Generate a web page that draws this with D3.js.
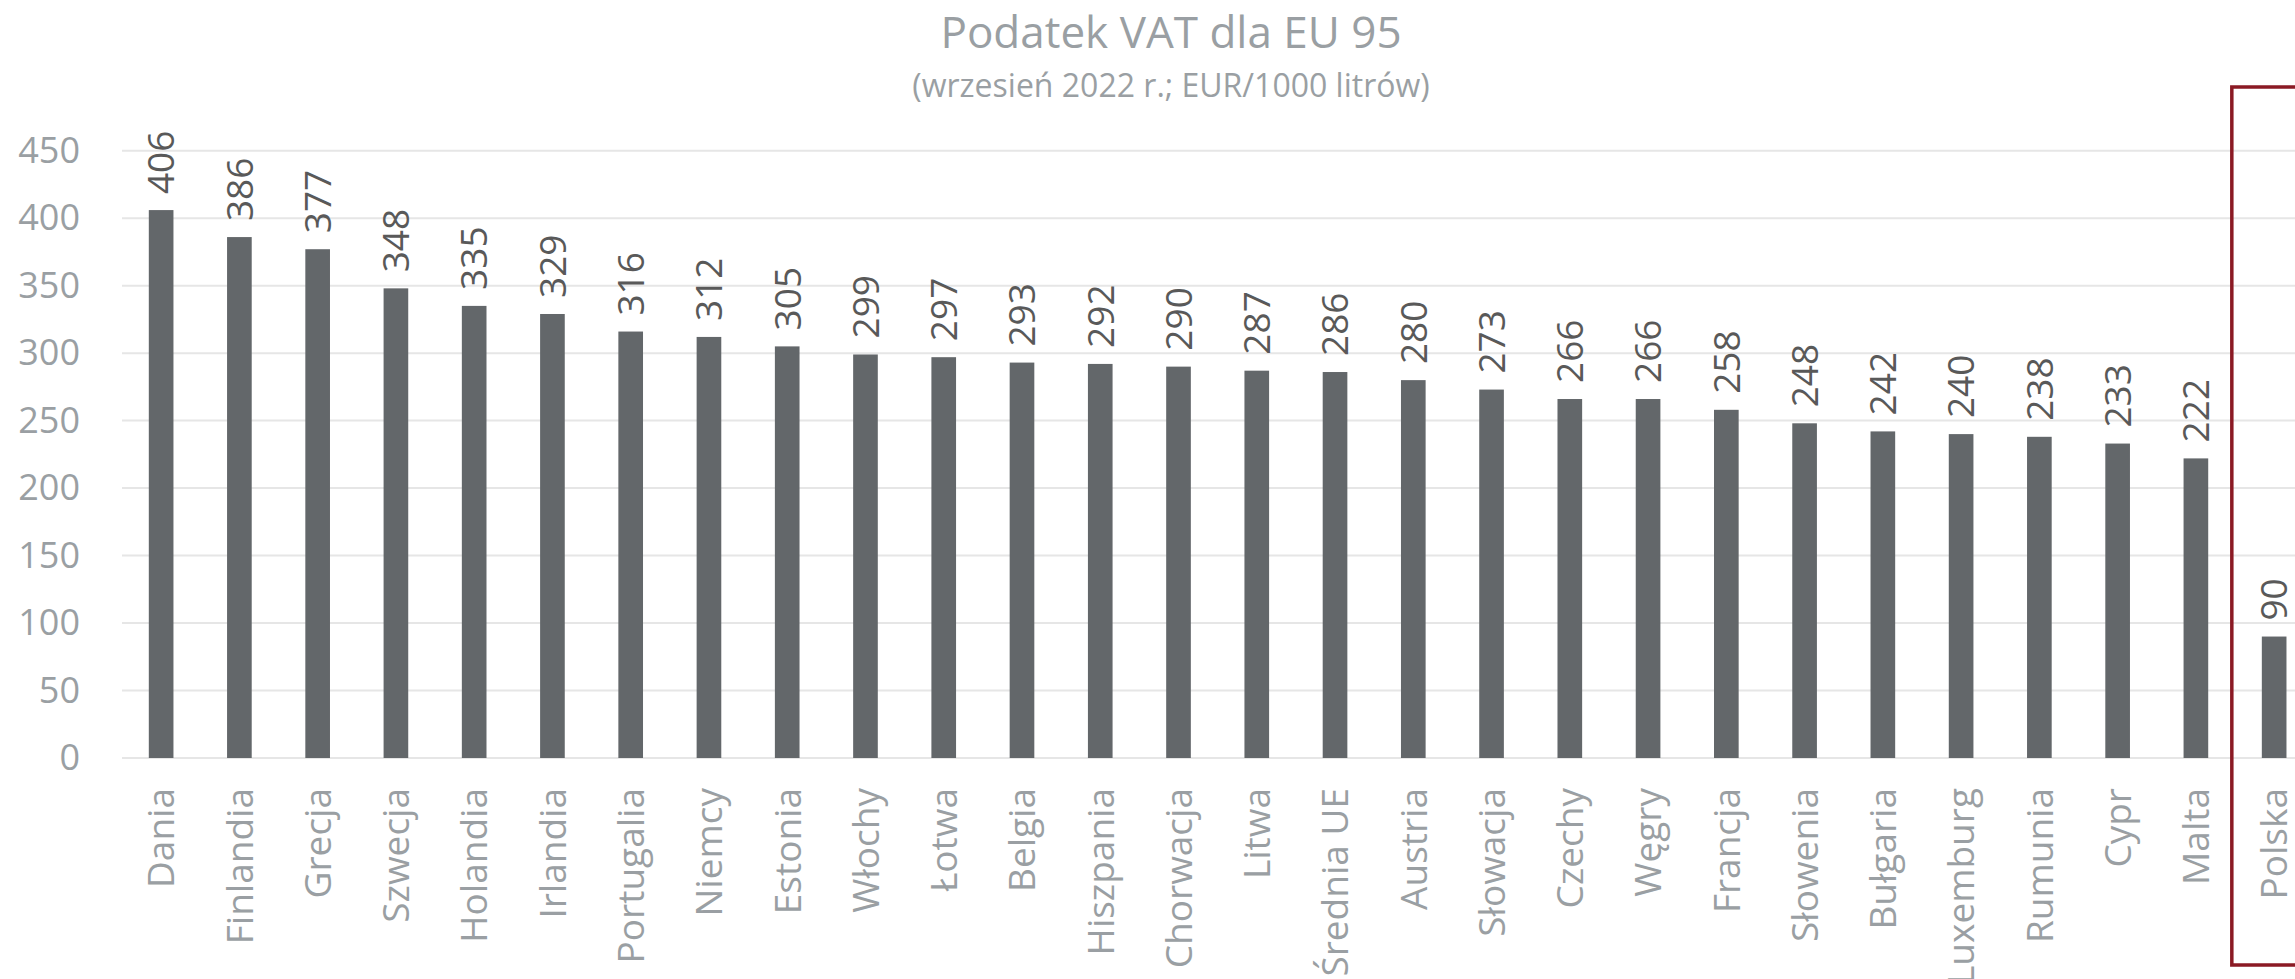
<!DOCTYPE html>
<html>
<head>
<meta charset="utf-8">
<script src="https://cdn.jsdelivr.net/npm/d3@7.9.0/dist/d3.min.js"></script>
<style>
  body { margin: 0; background: #fff; overflow: hidden; }
  svg { display: block; font-family: "Open Sans", sans-serif; }
</style>
</head>
<body>
<svg id="chart" width="2295" height="979"></svg>
<script>
// data
const countries = ['Dania', 'Finlandia', 'Grecja', 'Szwecja', 'Holandia', 'Irlandia', 'Portugalia',
  'Niemcy', 'Estonia', 'Włochy', 'Łotwa', 'Belgia', 'Hiszpania', 'Chorwacja', 'Litwa',
  'Średnia UE', 'Austria', 'Słowacja', 'Czechy', 'Węgry', 'Francja', 'Słowenia', 'Bułgaria',
  'Luxemburg', 'Rumunia', 'Cypr', 'Malta', 'Polska'];
const vat = [406, 386, 377, 348, 335, 329, 316, 312, 305, 299, 297, 293, 292, 290, 287,
  286, 280, 273, 266, 266, 258, 248, 242, 240, 238, 233, 222, 90];
const yTicks = [0, 50, 100, 150, 200, 250, 300, 350, 400, 450];
const highlighted = 'Polska';

const title = 'Podatek VAT dla EU 95';
const subtitle = '(wrzesień 2022 r.; EUR/1000 litrów)';

const svg = d3.select('#chart');

// plot area (runs past the right edge, like the original)
const plotLeft = 122, plotTop = 150.7, plotBottom = 758;
const step = 78.26;
const plotRight = plotLeft + step * countries.length;

const x = d3.scaleBand()
  .domain(countries)
  .range([plotLeft, plotRight])
  .paddingInner(0.685)
  .paddingOuter(0.3425);

const y = d3.scaleLinear()
  .domain([0, 450])
  .range([plotBottom, plotTop]);

// title
svg.append('text')
  .attr('x', 1171).attr('y', 48)
  .attr('text-anchor', 'middle')
  .attr('font-size', 44)
  .attr('fill', '#9a9fa3')
  .text(title);

svg.append('text')
  .attr('x', 1171).attr('y', 97)
  .attr('text-anchor', 'middle')
  .attr('font-size', 32)
  .attr('fill', '#9a9fa3')
  .text(subtitle);

// gridlines
svg.append('g')
  .selectAll('line')
  .data(yTicks)
  .join('line')
  .attr('x1', plotLeft).attr('x2', plotRight)
  .attr('y1', d => y(d)).attr('y2', d => y(d))
  .attr('stroke', '#e6e6e6')
  .attr('stroke-width', 2);

// y axis labels
const yAxis = svg.append('g')
  .attr('transform', `translate(${plotLeft},0)`)
  .call(d3.axisLeft(y).tickValues(yTicks).tickSize(0).tickPadding(42));
yAxis.select('.domain').remove();
yAxis.selectAll('text')
  .attr('font-family', '"Open Sans", sans-serif')
  .attr('font-size', 36)
  .attr('fill', '#9a9fa3');

// bars
svg.append('g')
  .selectAll('rect')
  .data(countries)
  .join('rect')
  .attr('x', d => x(d))
  .attr('width', x.bandwidth())
  .attr('y', (d, i) => y(vat[i]))
  .attr('height', (d, i) => y(0) - y(vat[i]))
  .attr('fill', '#63676a');

// value labels
svg.append('g')
  .selectAll('text')
  .data(countries)
  .join('text')
  .attr('transform', (d, i) =>
    `translate(${x(d) + x.bandwidth() / 2},${y(vat[i]) - 16}) rotate(-90)`)
  .attr('dy', '0.36em')
  .attr('text-anchor', 'start')
  .attr('font-size', 37)
  .attr('fill', '#595959')
  .text((d, i) => vat[i]);

// category labels
svg.append('g')
  .selectAll('text')
  .data(countries)
  .join('text')
  .attr('transform', d =>
    `translate(${x(d) + x.bandwidth() / 2},${plotBottom + 30}) rotate(-90)`)
  .attr('dy', '0.36em')
  .attr('text-anchor', 'end')
  .attr('font-size', 37)
  .attr('fill', '#9a9fa3')
  .text(d => d);

// red frame around Polska
const boxLeft = x(highlighted) - 30;
svg.append('rect')
  .attr('x', boxLeft)
  .attr('y', 87)
  .attr('width', 200)
  .attr('height', 878)
  .attr('fill', 'none')
  .attr('stroke', '#8b1a24')
  .attr('stroke-width', 3.5);
</script>
</body>
</html>
